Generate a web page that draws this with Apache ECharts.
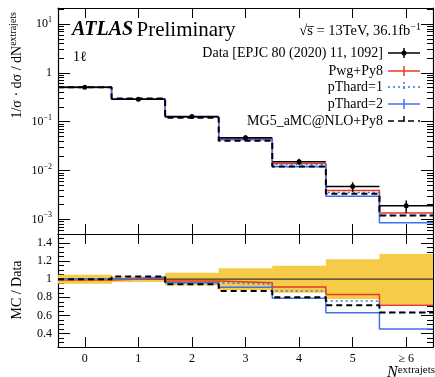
<!DOCTYPE html>
<html>
<head>
<meta charset="utf-8">
<script src="https://cdn.jsdelivr.net/npm/echarts@6/dist/echarts.min.js"></script>
<style>
  html, body { margin: 0; padding: 0; background: #fff; }
  #chart { width: 435px; height: 377px; }
</style>
</head>
<body>
<div id="chart"></div>
<script>
// bins of N extrajets
const binLabels = ['0', '1', '2', '3', '4', '5', '≥ 6'];
const binCenters = [0, 1, 2, 3, 4, 5, 6];
// 1/sigma dsigma/dN
const dataXs = [0.51, 0.29, 0.128, 0.047, 0.0152, 0.0047, 0.0019];
const dataRelErr = [0.05, 0.03, 0.07, 0.12, 0.15, 0.22, 0.28];
const pwgPy8 = [0.505, 0.293, 0.1254, 0.0451, 0.0139, 0.0039, 0.00135];
const pThard1 = [0.51, 0.296, 0.1229, 0.0444, 0.01322, 0.00357, 0.0012];
const pThard2 = [0.51, 0.296, 0.1229, 0.0428, 0.0120, 0.00296, 0.000855];
const mg5Py8 = [0.51, 0.299, 0.121, 0.0409, 0.01216, 0.00334, 0.0012];
// tick labels
const mainTickExp = [-3, -2, -1, 0, 1];
const ratioTicks = [0.4, 0.6, 0.8, 1, 1.2, 1.4];

const FONT = '"Liberation Serif", "DejaVu Serif", serif';
const RED = '#e8381e', BLUE = '#3f72f0', YELLOW = '#f6cb47';

// minor ticks
const mainMinor = [];
for (let n = -4; n <= 1; n++) {
  for (let k = 2; k <= 9; k++) mainMinor.push(Math.log10(k * Math.pow(10, n)));
}
const ratioMinor = [];
for (let v = 0.3; v < 1.5; v += 0.05) {
  const r = Math.round(v * 100) / 100;
  if (!ratioTicks.includes(r)) ratioMinor.push(r);
}

const lineStyleAxis = { color: '#000', width: 1.2 };
const supRich = {
  b: { fontFamily: FONT, fontSize: 12, color: '#000', lineHeight: 16 },
  s: { fontFamily: FONT, fontSize: 8, color: '#000', lineHeight: 9, verticalAlign: 'top' }
};

function xAx(grid, pos, withLabels) {
  return {
    type: 'value', gridIndex: grid, position: pos, min: -0.5, max: 6.5,
    axisLine: { show: true, onZero: false, lineStyle: lineStyleAxis },
    axisTick: { show: true, inside: true, length: 10, customValues: binCenters, lineStyle: { color: '#000', width: 1 } },
    axisLabel: withLabels ? {
      show: true, customValues: binCenters, margin: 6,
      formatter: v => binLabels[Math.round(v)],
      fontFamily: FONT, fontSize: 12, color: '#000'
    } : { show: false },
    splitLine: { show: false }
  };
}

function yAx(grid, pos, min, max, ticks, len, label, line) {
  return {
    type: 'value', gridIndex: grid, position: pos, min: min, max: max,
    axisLine: { show: line, onZero: false, lineStyle: lineStyleAxis },
    axisTick: { show: true, inside: true, length: len, customValues: ticks, lineStyle: { color: '#000', width: 1 } },
    axisLabel: label || { show: false },
    splitLine: { show: false }
  };
}

function stepPoints(vals, f) {
  const pts = vals.map((v, i) => [binCenters[i] - 0.5, f(v, i)]);
  const last = vals.length - 1;
  pts.push([binCenters[last] + 0.5, f(vals[last], last)]);
  return pts;
}

const models = [
  { name: 'Pwg+Py8', vals: pwgPy8, color: RED, width: 1.5, type: 'solid' },
  { name: 'pThard=1', vals: pThard1, color: BLUE, width: 1.5, type: [2, 3] },
  { name: 'pThard=2', vals: pThard2, color: BLUE, width: 1.5, type: 'solid' },
  { name: 'MG5_aMC@NLO+Py8', vals: mg5Py8, color: '#000', width: 2, type: [6, 4] }
];

const series = [];
// main panel
models.forEach(m => {
  series.push({
    type: 'line', name: m.name, xAxisIndex: 0, yAxisIndex: 0, step: 'end', showSymbol: false,
    data: stepPoints(m.vals, v => Math.log10(v)),
    lineStyle: { color: m.color, width: m.width, type: m.type }, silent: true
  });
});
series.push({
  type: 'custom', name: 'Data', xAxisIndex: 0, yAxisIndex: 0, clip: true, z: 5,
  data: binCenters.map((x, i) => [x, Math.log10(dataXs[i]),
    Math.log10(dataXs[i] * (1 + dataRelErr[i])), Math.log10(dataXs[i] * (1 - dataRelErr[i]))]),
  encode: { x: 0, y: 1 },
  renderItem: (p, api) => {
    const x = api.value(0), y = api.value(1);
    const l = api.coord([x - 0.5, y]), r = api.coord([x + 0.5, y]);
    const hi = api.coord([x, api.value(2)]), lo = api.coord([x, api.value(3)]);
    const cx = (l[0] + r[0]) / 2;
    return {
      type: 'group', children: [
        { type: 'line', shape: { x1: l[0], y1: l[1], x2: r[0], y2: r[1] }, style: { stroke: '#000', lineWidth: 1.5 } },
        { type: 'line', shape: { x1: cx, y1: hi[1], x2: cx, y2: lo[1] }, style: { stroke: '#000', lineWidth: 1.5 } },
        { type: 'circle', shape: { cx: cx, cy: l[1], r: 2.5 }, style: { fill: '#000' } }
      ]
    };
  }
});
// ratio panel
series.push({
  type: 'custom', xAxisIndex: 2, yAxisIndex: 4, clip: true,
  data: binCenters.map((x, i) => [x, dataRelErr[i]]),
  encode: { x: 0 },
  renderItem: (p, api) => {
    const x = api.value(0), e = api.value(1);
    const a = api.coord([x - 0.5, 1 + e]), b = api.coord([x + 0.5, 1 - e]);
    return { type: 'rect', shape: { x: a[0], y: a[1], width: b[0] - a[0] + 0.5, height: b[1] - a[1] }, style: { fill: YELLOW } };
  }
});
series.push({
  type: 'line', xAxisIndex: 2, yAxisIndex: 4, showSymbol: false, silent: true,
  data: [[-0.5, 1], [6.5, 1]], lineStyle: { color: '#333', width: 1.2 }
});
models.forEach(m => {
  series.push({
    type: 'line', xAxisIndex: 2, yAxisIndex: 4, step: 'end', showSymbol: false, silent: true,
    data: stepPoints(m.vals, (v, i) => v / dataXs[i]),
    lineStyle: { color: m.color, width: m.width, type: m.type }
  });
});

// legend (drawn as graphic)
const legendRows = [
  { text: 'Data [EPJC 80 (2020) 11, 1092]', color: '#000', dash: null, dot: true },
  { text: 'Pwg+Py8', color: RED, dash: null },
  { text: 'pThard=1', color: BLUE, dash: [2, 3] },
  { text: 'pThard=2', color: BLUE, dash: null },
  { text: 'MG5_aMC@NLO+Py8', color: '#000', dash: [6, 4] }
];
const legendY = [53, 71, 87, 104, 121];
const graphics = [];
legendRows.forEach((row, i) => {
  const y = legendY[i];
  graphics.push({ type: 'text', x: 383, y: y, style: { text: row.text, font: '14px ' + FONT, fill: '#000', align: 'right', verticalAlign: 'middle' } });
  graphics.push({ type: 'line', shape: { x1: 388, y1: y, x2: 420, y2: y }, style: { stroke: row.color, lineWidth: 1.5, lineDash: row.dash } });
  graphics.push({ type: 'line', shape: { x1: 404, y1: y - 5, x2: 404, y2: y + 5 }, style: { stroke: row.color, lineWidth: 1.5, lineDash: row.dash } });
  if (row.dot) graphics.push({ type: 'circle', shape: { cx: 404, cy: y, r: 2.5 }, style: { fill: '#000' } });
});
graphics.push({
  type: 'text', x: 72, y: 30,
  style: {
    text: '{a|ATLAS} {b|Preliminary}', verticalAlign: 'middle', align: 'left',
    rich: {
      a: { fontFamily: FONT, fontSize: 20, fontStyle: 'italic', fontWeight: 'bold', fill: '#000' },
      b: { fontFamily: FONT, fontSize: 21, fill: '#000' }
    }
  }
});
graphics.push({
  type: 'text', x: 421, y: 31,
  style: {
    text: '{a|√s̅ = 13TeV, 36.1fb}{s|−1}', verticalAlign: 'middle', align: 'right',
    rich: {
      a: { fontFamily: FONT, fontSize: 14.5, fill: '#000', lineHeight: 18 },
      s: { fontFamily: FONT, fontSize: 10, fill: '#000', lineHeight: 10, verticalAlign: 'top' }
    }
  }
});
graphics.push({ type: 'text', x: 73, y: 57, style: { text: '1ℓ', font: '14px ' + FONT, fill: '#000', verticalAlign: 'middle' } });
graphics.push({
  type: 'text', x: 17, y: 12, rotation: Math.PI / 2,
  style: {
    text: '{a|1/σ · dσ / dN}{s|extrajets}', align: 'right', verticalAlign: 'middle',
    rich: {
      a: { fontFamily: FONT, fontSize: 14, fill: '#000', lineHeight: 18 },
      s: { fontFamily: FONT, fontSize: 10, fill: '#000', lineHeight: 11, verticalAlign: 'top' }
    }
  }
});
graphics.push({
  type: 'text', x: 17, y: 290, rotation: Math.PI / 2,
  style: { text: 'MC / Data', font: '14px ' + FONT, fill: '#000', align: 'center', verticalAlign: 'middle' }
});
graphics.push({
  type: 'text', x: 435, y: 373,
  style: {
    text: '{n|N}{s|extrajets}', align: 'right', verticalAlign: 'middle',
    rich: {
      n: { fontFamily: FONT, fontSize: 16, fontStyle: 'italic', fill: '#000', lineHeight: 16 },
      s: { fontFamily: FONT, fontSize: 11, fill: '#000', lineHeight: 11, verticalAlign: 'top' }
    }
  }
});

const chart = echarts.init(document.getElementById('chart'), null, { renderer: 'canvas' });
chart.setOption({
  animation: false,
  backgroundColor: '#fff',
  grid: [
    { left: 58, top: 8, width: 375, height: 226 },
    { left: 58, top: 234, width: 375, height: 113 }
  ],
  xAxis: [xAx(0, 'bottom', false), xAx(0, 'top', false), xAx(1, 'bottom', true), xAx(1, 'top', false)],
  yAxis: [
    yAx(0, 'left', -3.3, 1.33, mainTickExp, 12, {
      show: true, customValues: mainTickExp, margin: 6, rich: supRich,
      formatter: v => v === 0 ? '{b|1}' : '{b|10}{s|' + (v < 0 ? '−' : '') + Math.abs(v) + '}'
    }, true),
    yAx(0, 'left', -3.3, 1.33, mainMinor, 6, null, false),
    yAx(0, 'right', -3.3, 1.33, mainTickExp, 12, null, true),
    yAx(0, 'right', -3.3, 1.33, mainMinor, 6, null, false),
    yAx(1, 'left', 0.25, 1.5, ratioTicks, 12, {
      show: true, customValues: ratioTicks, margin: 6,
      fontFamily: FONT, fontSize: 12, color: '#000', formatter: v => String(v)
    }, true),
    yAx(1, 'left', 0.25, 1.5, ratioMinor, 6, null, false),
    yAx(1, 'right', 0.25, 1.5, ratioTicks, 12, null, true),
    yAx(1, 'right', 0.25, 1.5, ratioMinor, 6, null, false)
  ],
  series: series,
  graphic: graphics
});
</script>
</body>
</html>
